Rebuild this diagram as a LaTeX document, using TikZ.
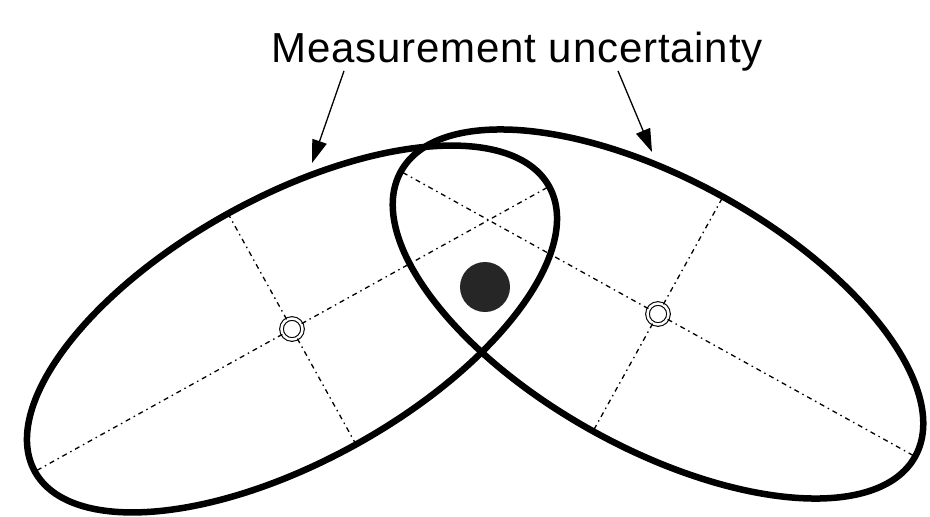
\documentclass[tikz,border=0pt]{standalone}
\usepackage{fontspec}
\setmainfont{Liberation Sans}
\usetikzlibrary{shapes.geometric,arrows.meta,positioning}
\tikzset{
  region/.style={ellipse, draw=black, line width=6.5pt, outer sep=0pt, inner sep=0pt},
  ctrmark/.style={circle, draw=black, double, double distance=2.5pt, line width=1.1pt, minimum size=21pt, inner sep=0pt},
  axisline/.style={line width=1.3pt, dash pattern=on 5pt off 4pt on 1.5pt off 4pt},
  pointer/.style={line width=1.3pt, -{Triangle[length=23pt,width=15pt]}},
  truth/.style={circle, fill=black!85, minimum size=50pt, inner sep=0pt},
  caption/.style={font=\fontsize{42}{48}\selectfont\addfontfeatures{LetterSpace=2}, inner sep=0pt},
}

\begin{document}
\begin{tikzpicture}[x=1pt, y=-1pt]
  \useasboundingbox (0,0) rectangle (930,517);
  % the two uncertainty regions
  \node[region, minimum width=588pt, minimum height=264pt, rotate=29] (lell) at (292,329) {};
  \node[region, minimum width=588pt, minimum height=268pt, rotate=-29] (rell) at (658,314) {};
  \node[ctrmark] (lc) at (292,329) {};
  \node[ctrmark] (rc) at (658,314) {};
  \node[truth] (target) at (485,287) {};
  \node[caption, anchor=base] (title) at (517,62) {Measurement uncertainty};
  \coordinate (ltip) at (312,163);
  \coordinate (rtip) at (652,152);
  % axes
  \draw[axisline] (lc) -- (lell.east);
  \draw[axisline] (lc) -- (lell.west);
  \draw[axisline] (lc) -- (lell.north);
  \draw[axisline] (lc) -- (lell.south);
  \draw[axisline] (rc) -- (rell.east);
  \draw[axisline] (rc) -- (rell.west);
  \draw[axisline] (rc) -- (rell.north);
  \draw[axisline] (rc) -- (rell.south);
  % labels
  \draw[pointer] ([xshift=-173pt]title.south) -- (ltip);
  \draw[pointer] ([xshift=101pt]title.south) -- (rtip);
\end{tikzpicture}
\end{document}
